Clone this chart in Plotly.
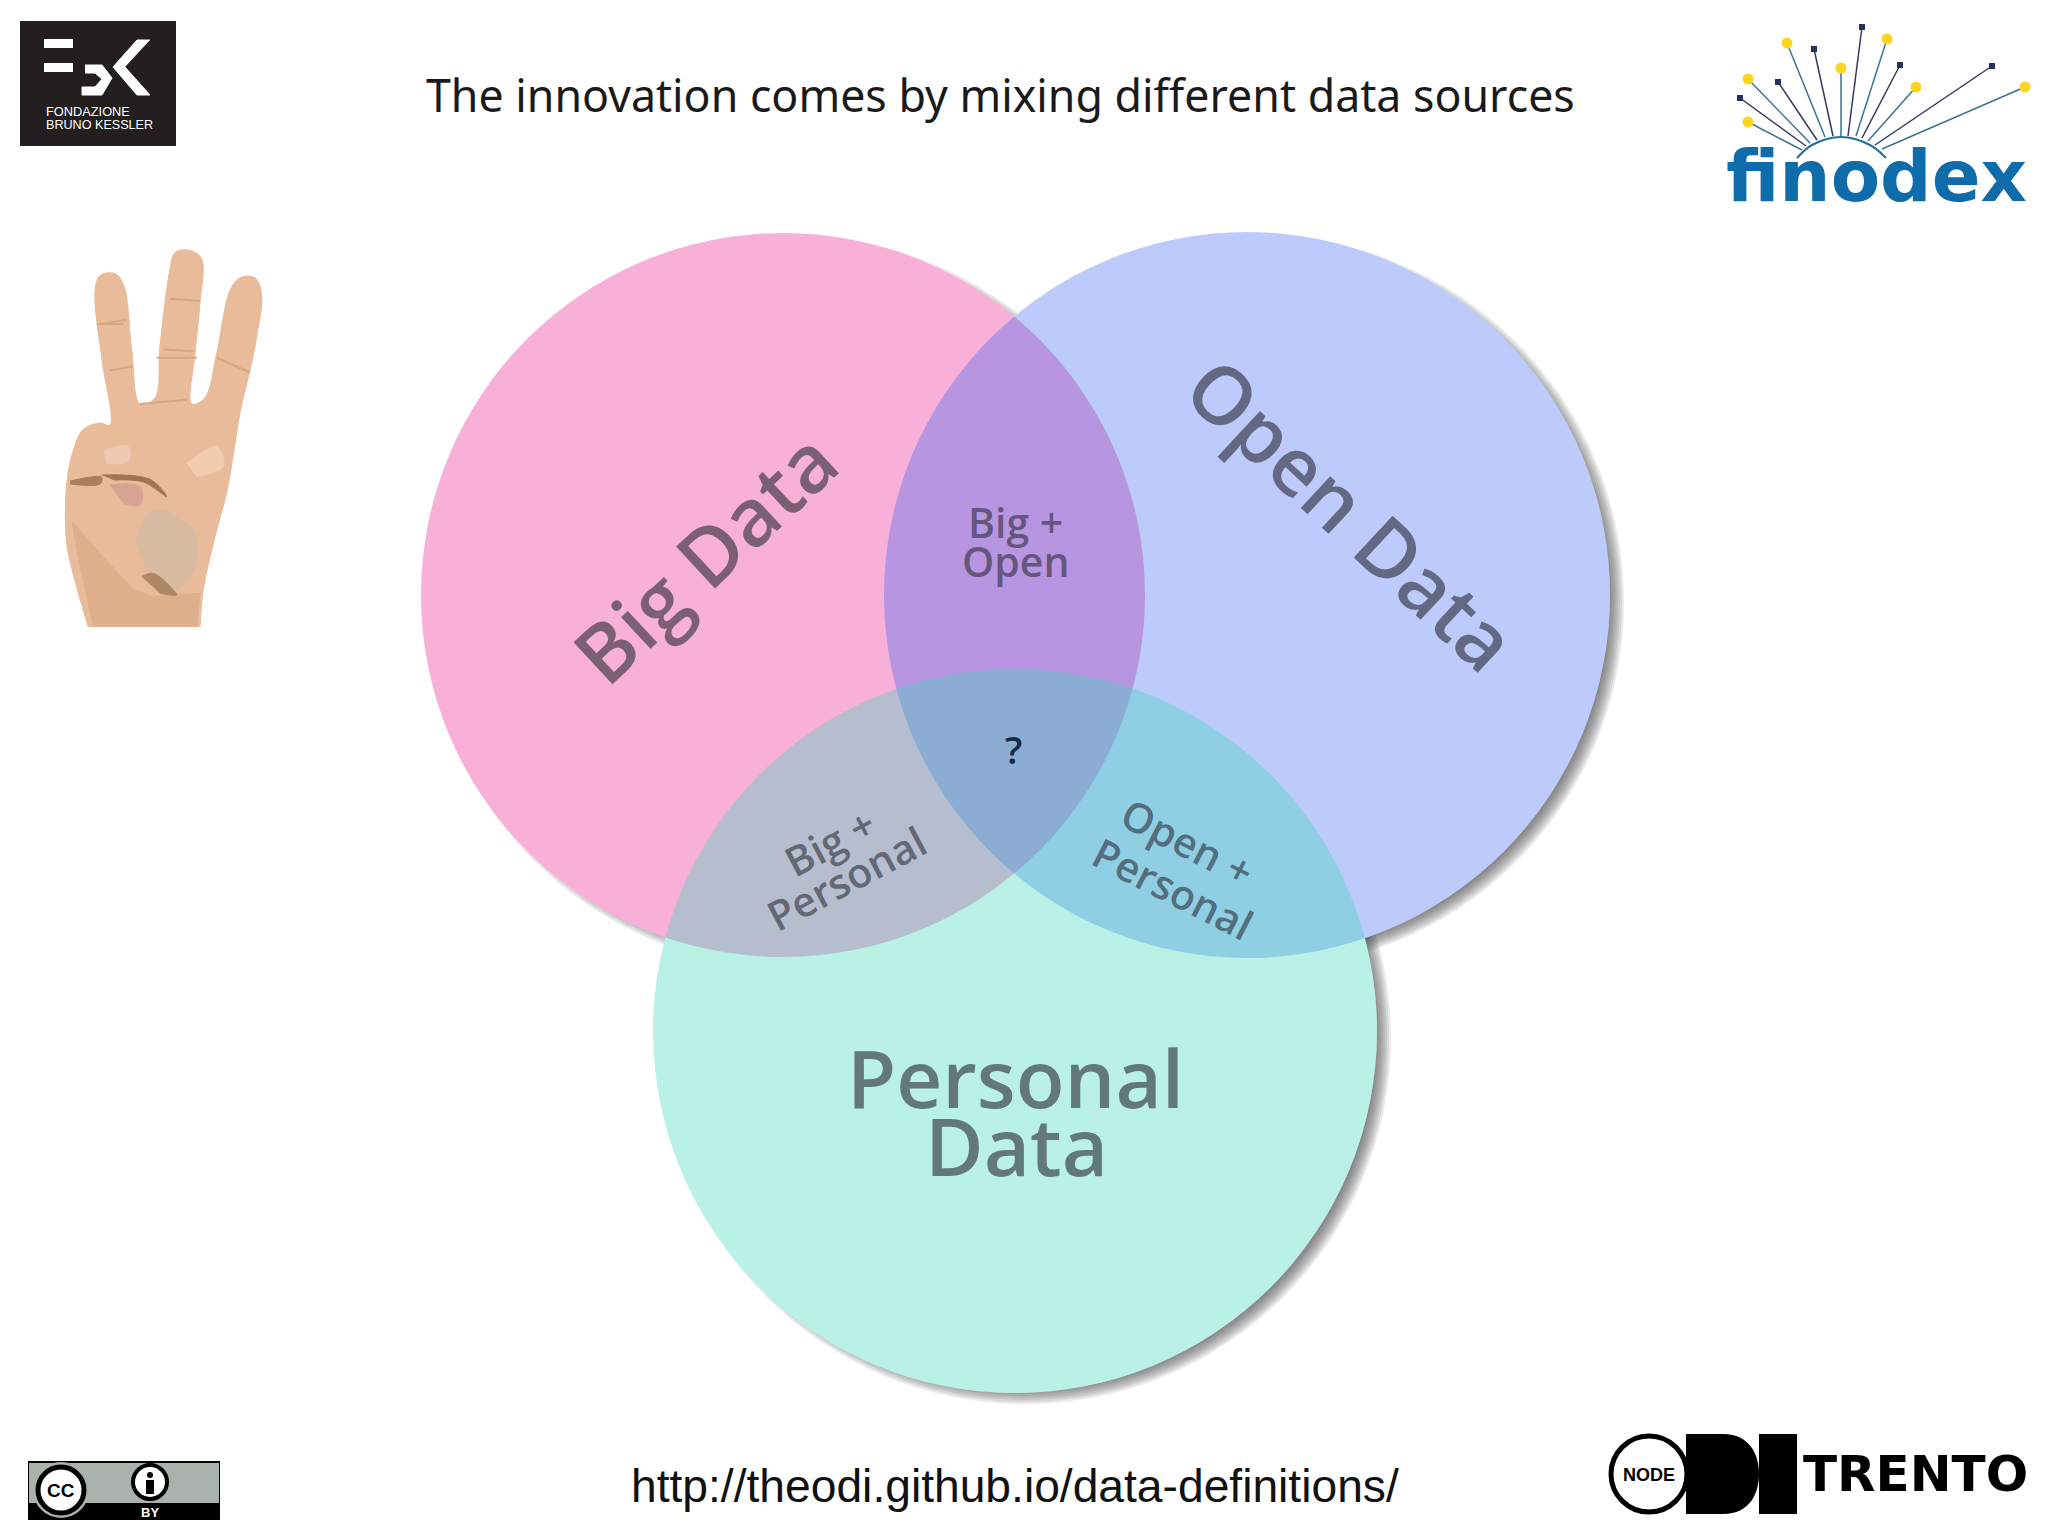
import plotly.graph_objects as go

# venn sets, page pixels
set_names = ['Big Data', 'Open Data', 'Personal Data']
center_x = [783, 1247, 1015]
center_y = [595, 595, 1031]
radius = [362, 363, 362]
fills = ['rgba(237,57,160,0.4)', 'rgba(46,92,242,0.32)', 'rgba(58,215,186,0.35)']

# labels inside the circles
labels = ['Big Data', 'Open Data', 'Personal', 'Data', 'Big +', 'Open', 'Big +', 'Personal',
          'Open +', 'Personal', '?']
label_x = [703, 1353, 1015, 1016, 1015, 1015, 829, 846, 1188, 1173, 1013]
label_y = [556, 513, 1076, 1144, 522, 561, 842, 878, 842, 888, 749]
label_size = [80, 80, 80, 80, 41, 41, 41, 41, 41, 41, 38]
label_angle = [-43, 43, 0, 0, 0, 0, -28, -28, 27, 27, 0]
label_color = ['rgba(45,45,55,0.62)'] * 10 + ['#1c2740']

# finodex logo, page pixels
dots_x = [1748, 1748, 1787, 1841, 1887, 1916, 2025]
dots_y = [122, 79, 43, 68, 39, 87, 87]
dots_end_x = [1802, 1810, 1825, 1841, 1856, 1868, 1882]
dots_end_y = [150, 143, 137, 136, 136, 141, 149]
squares_x = [1740, 1778, 1814, 1862, 1900, 1992]
squares_y = [98, 82, 49, 27, 65, 66]
squares_end_x = [1806, 1817, 1833, 1848, 1862, 1875]
squares_end_y = [146, 140, 136, 136, 138, 145]
arc_x = [1797, 1812, 1841, 1870, 1886]
arc_y = [158, 145, 137, 145, 158]

# hand outline (crop coords: x/3, y/2.376)
hand_x = [265, 225, 200, 200, 220, 250, 300, 330, 305, 285, 300, 345, 372, 395, 420, 465, 480, 510, 525,
          570, 605, 600, 585, 575, 615, 650, 690, 720, 765, 785, 770, 750, 720, 700, 680, 650, 610, 600]
hand_y = [1490, 1380, 1290, 1150, 1070, 1020, 1005, 1010, 850, 690, 655, 650, 680, 830, 960, 945, 820, 640, 600,
          595, 615, 720, 840, 960, 945, 840, 690, 660, 660, 700, 800, 880, 980, 1080, 1170, 1260, 1400, 1490]
crease_x = [[290, 370], [510, 600], [470, 590], [650, 750], [330, 400], [300, 380], [490, 580], [420, 560]]
crease_y = [[770, 770], [710, 715], [850, 850], [850, 885], [880, 870], [770, 760], [830, 835], [960, 950]]

# hand details, second crop (page = 60 + x/3, 420 + y/3)
palm_low_x = [35, 55, 100, 410, 420, 280, 220, 120]
palm_low_y = [300, 410, 618, 618, 520, 530, 510, 400]
pad_x = [225, 280, 400, 405, 350, 270]
pad_y = [370, 270, 330, 440, 510, 470]
pad_shadow_x = [245, 280, 340, 350, 300]
pad_shadow_y = [470, 460, 510, 525, 520]
light_x = [380, 470, 490, 410]
light_y = [130, 80, 140, 170]
nail_x = [130, 205, 205, 140]
nail_y = [90, 80, 125, 130]
pinky_x = [150, 240, 240, 190]
pinky_y = [195, 200, 255, 250]
curl_x = [30, 125, 120, 30]
curl_y = [183, 172, 192, 192]
fold_x = [125, 270, 320, 250, 160]
fold_y = [165, 178, 230, 186, 180]

shapes = []
traces = []


def circle(cx, cy, r, fill, line=None, width=0):
    shapes.append(dict(type='circle', xref='x', yref='y', x0=cx - r, x1=cx + r, y0=cy - r, y1=cy + r,
                       fillcolor=fill, line=dict(color=line or 'rgba(0,0,0,0)', width=width), layer='below'))


def rect(x0, y0, x1, y1, fill):
    shapes.append(dict(type='rect', xref='x', yref='y', x0=x0, x1=x1, y0=y0, y1=y1,
                       fillcolor=fill, line=dict(width=0), layer='below'))


def poly(xs, ys, fill, smooth=False):
    traces.append(go.Scatter(x=xs, y=ys, mode='lines', fill='toself', fillcolor=fill,
                             line=dict(color=fill, width=1, shape='spline' if smooth else 'linear'),
                             hoverinfo='skip'))


def hand_part(xs, ys, fill, smooth=True):
    poly([60 + x / 3 for x in xs], [420 + y / 3 for y in ys], fill, smooth=smooth)


# soft shadow first, then white discs so it does not tint the overlaps
for grow in range(-10, 6, 2):
    for cx, cy, r in zip(center_x, center_y, radius):
        circle(cx + 10, cy + 7, r + grow, 'rgba(60,60,60,0.11)')
for cx, cy, r in zip(center_x, center_y, radius):
    circle(cx, cy, r, 'white')
for cx, cy, r, f in zip(center_x, center_y, radius, fills):
    circle(cx, cy, r, f)

# FBK logo
rect(20, 21, 176, 146, '#231f20')
rect(44, 39, 73, 48, 'white')
rect(44, 63, 73, 72, 'white')
poly([85, 102, 112, 102, 82, 82, 95, 102, 95, 85], [65, 65, 78, 95, 95, 87, 87, 79, 73, 73], 'white')
poly([150, 137, 113, 137, 150, 125], [40, 40, 67, 95, 95, 67], 'white')

# hand
poly([x / 3 for x in hand_x], [y / 2.376 for y in hand_y], '#e8bb9a', smooth=True)
hand_part(palm_low_x, palm_low_y, '#dfae8a', smooth=False)
hand_part(pad_x, pad_y, '#d8bca2')
hand_part(pad_shadow_x, pad_shadow_y, '#b08766')
hand_part(light_x, light_y, '#f1cdae')
hand_part(nail_x, nail_y, '#eec9b2')
hand_part(pinky_x, pinky_y, '#d9a394')
hand_part(curl_x, curl_y, '#aa7e5e')
hand_part(fold_x, fold_y, '#a07455')
for cxs, cys in zip(crease_x, crease_y):
    traces.append(go.Scatter(x=[x / 3 for x in cxs], y=[y / 2.376 for y in cys], mode='lines',
                             line=dict(color='#d8a684', width=2), hoverinfo='skip'))

# finodex lines
for x0, y0, x1, y1 in zip(dots_x, dots_y, dots_end_x, dots_end_y):
    traces.append(go.Scatter(x=[x0, x1], y=[y0, y1], mode='lines', line=dict(color='#3c7392', width=1.5),
                             hoverinfo='skip'))
for x0, y0, x1, y1 in zip(squares_x, squares_y, squares_end_x, squares_end_y):
    traces.append(go.Scatter(x=[x0, x1], y=[y0, y1], mode='lines', line=dict(color='#33395a', width=1.5),
                             hoverinfo='skip'))
traces.append(go.Scatter(x=dots_x, y=dots_y, mode='markers', marker=dict(color='#fbd51f', size=11),
                         hoverinfo='skip'))
traces.append(go.Scatter(x=squares_x, y=squares_y, mode='markers',
                         marker=dict(color='#26315e', size=6, symbol='square'), hoverinfo='skip'))
traces.append(go.Scatter(x=arc_x, y=arc_y, mode='lines', line=dict(color='#1f6f9f', width=2, shape='spline'),
                         hoverinfo='skip'))

# CC BY badge
rect(28, 1461, 220, 1520, 'black')
rect(29, 1463, 219, 1503, '#aab2ab')
circle(61, 1490, 28, '#aab2ab')
circle(61, 1490, 23, 'white', 'black', 5)
circle(150, 1482, 17, 'white', 'black', 4)
circle(150, 1475, 3, 'black')
rect(146, 1480, 154, 1494, 'black')

# ODI logo
circle(1649, 1474, 38, 'white', 'black', 5)
shapes.append(dict(type='path', xref='x', yref='y', layer='below', fillcolor='black', line=dict(width=0),
                   path='M1686,1434 L1723,1434 C1750,1434 1759,1455 1759,1474 '
                        'C1759,1493 1750,1514 1723,1514 L1686,1514 Z'))
rect(1759, 1434, 1797, 1514, 'black')

annotations = []


def text(x, y, s, size, color='black', family='Open Sans', angle=0, anchor='center', weight=400):
    annotations.append(dict(x=x, y=y, xref='x', yref='y', text=s, showarrow=False, textangle=angle,
                            xanchor=anchor, yanchor='middle',
                            font=dict(size=size, color=color, family=family, weight=weight)))


for s, x, y, size, angle, color in zip(labels, label_x, label_y, label_size, label_angle, label_color):
    text(x, y, s, size, color, angle=angle, weight=600)

text(1000, 94, 'The innovation comes by mixing different data sources', 44.7, '#1a1a1a', 'Noto Sans')
text(1015, 1486, 'http://theodi.github.io/data-definitions/', 46.2, '#111111', 'Liberation Sans')
text(44, 111, 'FONDAZIONE', 12.8, 'white', 'Liberation Sans', anchor='left')
text(44, 125, 'BRUNO KESSLER', 12.6, 'white', 'Liberation Sans', anchor='left')
text(1876, 176, 'finodex', 72, '#0f6cab', 'DejaVu Sans', weight=700)
text(61, 1490, 'CC', 19, 'black', 'Liberation Sans', weight=700)
text(150, 1512, 'BY', 13, 'white', 'Liberation Sans', weight=700)
text(1649, 1475, 'NODE', 18, 'black', 'Liberation Sans', weight=700)
text(1915, 1474, 'TRENTO', 50, 'black', 'DejaVu Sans', weight=700)

fig = go.Figure(data=traces)
fig.update_layout(
    width=2048, height=1535, margin=dict(l=0, r=0, t=0, b=0),
    paper_bgcolor='white', plot_bgcolor='white', showlegend=False,
    shapes=shapes, annotations=annotations,
    xaxis=dict(range=[0, 2048], visible=False, fixedrange=True),
    yaxis=dict(range=[1535, 0], visible=False, fixedrange=True),
)
fig.write_html("out.html", config=dict(displayModeBar=False), post_script="document.body.style.margin='0';")
